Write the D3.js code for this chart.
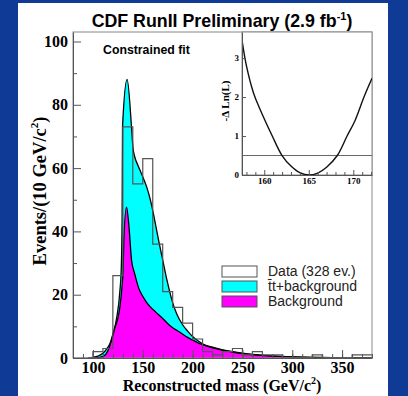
<!DOCTYPE html>
<html><head><meta charset="utf-8">
<script src="https://cdn.jsdelivr.net/npm/d3@7"></script>
<style>html,body{margin:0;padding:0;background:#0f3a96;} svg{display:block}</style>
</head><body>
<svg id="c" width="408" height="396"></svg>
<script>
// ---- data ----
const binLow = [80,90,100,110,120,130,140,150,160,170,180,190,200,210,220,230,240,250,260,270,280,290,300,310,320,330,340,350,360,370];
const binWidth = 10;
const dataCounts = [0,0,2,3,26,73,55,63,36,21,16,11,6,2,1,2,3,1,2,1,1,0,0,0,1,0,0,0,1,1];
const totalMass = [95,100,105,110,114,117,120,124,127,128.5,129.3,129.7,134.3,138.7,140,142,145,149,154,158,162,166,170,174,177,180,184,190,195,200,205,210,220,230,240,250,260,270,280,290,300,320,340,360,380];
const totalVals = [0,0.2,0.6,1.5,3,4.5,7.5,13,21,29,45,73,88,73,67,63.5,61,58,54,49.5,43.5,37,31,25,21,17.5,14,10.5,8.5,6.8,5.5,4.5,3.4,2.6,2.0,1.5,1.1,0.85,0.65,0.5,0.36,0.2,0.11,0.06,0.03];
const bkgMass = [100,105,110,113,116,119,122,125,127,129,130.3,131,133.7,136.3,138.7,142,146,150,154,158,163,170,178,187,195,203,210,220,230,240,250,260,270,280,290,300,320,340,360,380];
const bkgVals = [0,0.1,0.5,1.2,3,6,9.5,12.5,16,22,28,37,47.7,41,31,26.5,22,19.5,17.5,16,14.5,12.5,10,8.2,6.5,5.2,4.2,3.2,2.5,1.9,1.4,1.05,0.8,0.6,0.45,0.33,0.18,0.1,0.05,0.02];
const xTicks = [100,150,200,250,300,350];
const yTicks = [0,20,40,60,80,100];
const legendLabels = ["Data (328 ev.)","t\u0304t+background","Background"];
const lnlMass = [157.5,158.0,158.8,159.5,160.9,162.0,163.0,164.0,165.05,166.0,167.0,168.2,169.3,170.2,171.2,172.1];
const lnlVals = [3.46,2.8,2.1,1.7,1.0,0.5,0.23,0.06,0,0.05,0.2,0.5,1.0,1.4,2.0,2.48];
const lnlRef = 0.5;
const insetXTicks = [160,165,170];
const insetYTicks = [0,1,2,3];

// ---- drawing ----
const svg = d3.select("#c");
const serif = "'Liberation Serif','Times New Roman',serif";
const sans = "'Liberation Sans',Arial,Helvetica,sans-serif";
svg.append("rect").attr("width",408).attr("height",396).attr("fill","#0f3a96");
svg.append("rect").attr("x",18).attr("y",3).attr("width",370).attr("height",393).attr("fill","#fff");

const x = d3.scaleLinear().domain([80,380]).range([73,372]);
const y = d3.scaleLinear().domain([0,103]).range([358,32]);

svg.append("clipPath").attr("id","pc").append("rect")
  .attr("x",x.range()[0]).attr("y",y.range()[1])
  .attr("width",x.range()[1]-x.range()[0]).attr("height",y.range()[0]-y.range()[1]);
const g = svg.append("g").attr("clip-path","url(#pc)");

const totalPts = totalMass.map((m,i)=>[m,totalVals[i]]);
const bkgPts = bkgMass.map((m,i)=>[m,bkgVals[i]]);
const area = d3.area().x(d=>x(d[0])).y0(y(0)).y1(d=>y(d[1])).curve(d3.curveMonotoneX);
const line = d3.line().x(d=>x(d[0])).y(d=>y(d[1])).curve(d3.curveMonotoneX);

g.append("path").attr("d",area(totalPts)).attr("fill","#00ffff");
g.append("path").attr("d",area(bkgPts)).attr("fill","#ff00ff");
g.append("path").attr("d",line(totalPts)).attr("fill","none").attr("stroke","#000").attr("stroke-width",1.3);
g.append("path").attr("d",line(bkgPts)).attr("fill","none").attr("stroke","#000").attr("stroke-width",1.3);

const stepPts = binLow.map((b,i)=>[b,dataCounts[i]]);
stepPts.push([binLow[binLow.length-1]+binWidth, dataCounts[dataCounts.length-1]]);
const stepLine = d3.line().x(d=>x(d[0])).y(d=>y(d[1])).curve(d3.curveStepAfter);
g.append("path").attr("d",stepLine(stepPts)).attr("fill","none").attr("stroke","#555").attr("stroke-width",1.2);

// frame
svg.append("rect").attr("x",x.range()[0]).attr("y",y.range()[1])
  .attr("width",x.range()[1]-x.range()[0]).attr("height",y.range()[0]-y.range()[1])
  .attr("fill","none").attr("stroke","#888").attr("stroke-width",1);

// axes
function styleAxis(sel, fs){
  sel.select(".domain").attr("stroke","#555");
  sel.selectAll(".tick line").attr("stroke","#555");
  sel.selectAll("text").attr("font-family",serif).attr("font-weight","bold").attr("font-size",fs).attr("fill","#000");
}
const minorX = binLow.concat([380]);
svg.append("g").attr("transform",`translate(0,${y(0)})`)
  .call(d3.axisBottom(x).tickValues(minorX).tickSize(-4).tickFormat(""))
  .call(s=>{s.select(".domain").remove(); s.selectAll("line").attr("stroke","#555");});
svg.append("g").attr("transform",`translate(0,${y(0)})`)
  .call(d3.axisBottom(x).tickValues(xTicks).tickSizeInner(-8).tickSizeOuter(0).tickPadding(4).tickFormat(d3.format("d")))
  .call(s=>styleAxis(s,"16px"));
const minorY = [10,30,50,70,90];
svg.append("g").attr("transform",`translate(${x.range()[0]},0)`)
  .call(d3.axisLeft(y).tickValues(minorY).tickSize(-4).tickFormat(""))
  .call(s=>{s.select(".domain").remove(); s.selectAll("line").attr("stroke","#555");});
svg.append("g").attr("transform",`translate(${x.range()[0]},0)`)
  .call(d3.axisLeft(y).tickValues(yTicks).tickSizeInner(-8).tickSizeOuter(0).tickPadding(5).tickFormat(d3.format("d")))
  .call(s=>styleAxis(s,"16px"));

// titles
const t = svg.append("text").attr("x",222).attr("y",27).attr("text-anchor","middle")
  .attr("font-family",sans).attr("font-weight","bold").attr("font-size","17.8px").attr("fill","#000");
t.append("tspan").text("CDF RunII Preliminary (2.9 fb");
t.append("tspan").attr("font-size","11px").attr("dy",-7).text("-1");
t.append("tspan").attr("dy",7).text(")");

const xt = svg.append("text").attr("x",222).attr("y",391).attr("text-anchor","middle")
  .attr("font-family",serif).attr("font-weight","bold").attr("font-size","16px");
xt.append("tspan").text("Reconstructed mass (GeV/c");
xt.append("tspan").attr("font-size","10px").attr("dy",-7).text("2");
xt.append("tspan").attr("dy",7).text(")");

const yt = svg.append("text").attr("transform","translate(46,191) rotate(-90)").attr("text-anchor","middle")
  .attr("font-family",serif).attr("font-weight","bold").attr("font-size","18.5px");
yt.append("tspan").text("Events/(10 GeV/c");
yt.append("tspan").attr("font-size","11px").attr("dy",-8).text("2");
yt.append("tspan").attr("dy",8).text(")");

svg.append("text").attr("x",103).attr("y",54).attr("font-family",sans).attr("font-weight","bold")
  .attr("font-size","12.3px").text("Constrained fit");

// legend
const legFills = ["#fff","#00ffff","#ff00ff"];
const leg = svg.append("g");
legendLabels.forEach((lab,i)=>{
  const yy = 266 + i*15;
  leg.append("rect").attr("x",222).attr("y",yy).attr("width",35).attr("height",11)
    .attr("fill",legFills[i]).attr("stroke","#555").attr("stroke-width",1);
  leg.append("text").attr("x",268).attr("y",yy+10).attr("font-family",sans).attr("font-size","14px")
    .attr("fill","#222").text(lab);
});

// inset
const ix = d3.scaleLinear().domain([157.5,172.1]).range([242,372]);
const iy = d3.scaleLinear().domain([0,3.67]).range([175,32]);
svg.append("rect").attr("x",242).attr("y",32).attr("width",130).attr("height",143)
  .attr("fill","#fff").attr("stroke","#888").attr("stroke-width",1);
svg.append("clipPath").attr("id","ic").append("rect").attr("x",242).attr("y",32).attr("width",130).attr("height",143);
const ig = svg.append("g").attr("clip-path","url(#ic)");
ig.append("line").attr("x1",ix.range()[0]).attr("x2",ix.range()[1]).attr("y1",iy(lnlRef)).attr("y2",iy(lnlRef))
  .attr("stroke","#666").attr("stroke-width",1);
ig.append("path").attr("d",d3.line().x((d,i)=>ix(lnlMass[i])).y(d=>iy(d)).curve(d3.curveCatmullRom)(lnlVals))
  .attr("fill","none").attr("stroke","#111").attr("stroke-width",1.4);

const iMinor = [158,159,161,162,163,164,166,167,168,169,171,172];
svg.append("g").attr("transform",`translate(0,175)`)
  .call(d3.axisBottom(ix).tickValues(iMinor).tickSize(-3).tickFormat(""))
  .call(s=>{s.select(".domain").remove(); s.selectAll("line").attr("stroke","#555");});
svg.append("g").attr("transform",`translate(0,175)`)
  .call(d3.axisBottom(ix).tickValues(insetXTicks).tickSizeInner(-5).tickSizeOuter(0).tickPadding(3).tickFormat(d3.format("d")))
  .call(s=>styleAxis(s,"9px"));
svg.append("g").attr("transform",`translate(242,0)`)
  .call(d3.axisLeft(iy).tickValues(insetYTicks).tickSizeInner(-4).tickSizeOuter(0).tickPadding(3).tickFormat(d3.format("d")))
  .call(s=>styleAxis(s,"9px"));
svg.append("text").attr("transform","translate(229,101) rotate(-90)").attr("text-anchor","middle")
  .attr("font-family",serif).attr("font-weight","bold").attr("font-size","11px").text("-\u0394 Ln(L)");
</script>
</body></html>
